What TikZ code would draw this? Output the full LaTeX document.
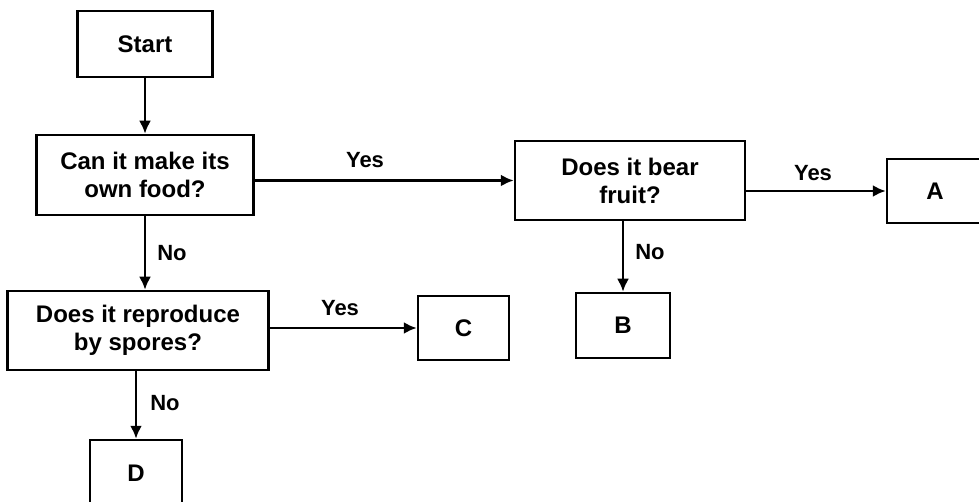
\documentclass[tikz,border=0pt]{standalone}
\usepackage{fontspec}
\setmainfont{Liberation Sans}
\usetikzlibrary{arrows.meta}
\begin{document}
\begin{tikzpicture}[x=1pt,y=-1pt,
  box/.style={draw, line width=2.5pt, rectangle, align=center, inner sep=0pt,
    font=\fontsize{24}{28}\selectfont\bfseries},
  lbl/.style={font=\fontsize{22}{26}\selectfont\bfseries, inner sep=0pt},
  arr/.style={line width=2.5pt, -{Latex[length=13pt,width=12pt]}}]
\useasboundingbox (0,0) rectangle (979,502);
\node[box, minimum width=135pt, minimum height=66pt] (start) at (145,44) {Start};
\node[box, minimum width=217pt, minimum height=80pt] (can) at (145,175) {Can it make its\\own food?};
\node[box, minimum width=230pt, minimum height=79pt] (fruit) at (630,180.5) {Does it bear\\fruit?};
\node[box, minimum width=96pt, minimum height=64pt] (A) at (935,191) {A};
\node[box, minimum width=261pt, minimum height=79pt] (spores) at (138,330.5) {Does it reproduce\\by spores?};
\node[box, minimum width=91pt, minimum height=64pt] (C) at (463.5,328) {C};
\node[box, minimum width=94pt, minimum height=65pt] (B) at (623,325.5) {B};
\node[box, minimum width=92pt, minimum height=66pt] (D) at (136,473) {D};
\draw[arr] (start.south) -- (start.south |- can.north);
\draw[arr] (can.east |- fruit.west) -- (fruit.west);
\draw[arr] (fruit.east |- A.west) -- (A.west);
\draw[arr] (can.south) -- (can.south |- spores.north);
\draw[arr] (B.north |- fruit.south) -- (B.north);
\draw[arr] (spores.east |- C.west) -- (C.west);
\draw[arr] (D.north |- spores.south) -- (D.north);
\node[lbl] (y1) at (365,160) {Yes};
\node[lbl] (y2) at (813,173) {Yes};
\node[lbl] (y3) at (340,308) {Yes};
\node[lbl] (n1) at (172,253) {No};
\node[lbl] (n2) at (650,252) {No};
\node[lbl] (n3) at (165,403) {No};
\end{tikzpicture}
\end{document}
